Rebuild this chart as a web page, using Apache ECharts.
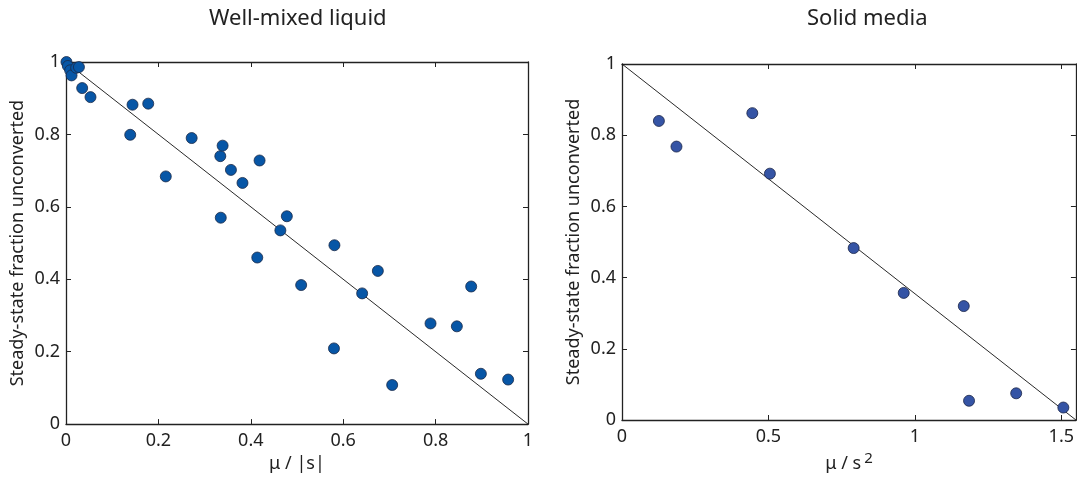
<!DOCTYPE html>
<html>
<head>
<meta charset="utf-8">
<script src="https://cdn.jsdelivr.net/npm/echarts@6/dist/echarts.min.js"></script>
<style>
html, body { margin: 0; padding: 0; background: #ffffff; }
#main { width: 1077px; height: 478px; }
</style>
</head>
<body>
<div id="main"></div>
<script>
// well-mixed liquid: mu/|s| vs fraction unconverted
var liquidX = [0.001, 0.004, 0.009, 0.012, 0.022, 0.028, 0.035, 0.053, 0.139, 0.144, 0.178, 0.216,
               0.272, 0.334, 0.339, 0.357, 0.335, 0.382, 0.419, 0.414, 0.464, 0.478, 0.509, 0.581,
               0.580, 0.641, 0.675, 0.706, 0.789, 0.846, 0.877, 0.898, 0.957];
var liquidY = [1.000, 0.989, 0.977, 0.963, 0.984, 0.986, 0.928, 0.903, 0.799, 0.882, 0.885, 0.684,
               0.790, 0.740, 0.769, 0.702, 0.570, 0.666, 0.728, 0.460, 0.535, 0.574, 0.384, 0.494,
               0.209, 0.361, 0.423, 0.108, 0.278, 0.270, 0.380, 0.139, 0.123];

// solid media: mu/s^2 vs fraction unconverted
var solidX = [0.126, 0.186, 0.445, 0.505, 0.791, 0.962, 1.167, 1.185, 1.346, 1.507];
var solidY = [0.840, 0.768, 0.862, 0.692, 0.483, 0.357, 0.320, 0.054, 0.075, 0.035];

// reference lines y = 1 - x/xmax
var liquidLineX = [0, 1];
var liquidLineY = [1, 0];
var solidLineX = [0, 1.55];
var solidLineY = [1, 0];

var FONT = 'Noto Sans';
var INK = '#222222';

function zip(xs, ys) {
	var out = [];
	for (var i = 0; i < xs.length; i++) {
		out.push([xs[i], ys[i]]);
	}
	return out;
}

function valueAxis(grid, pos, max, interval, labels, extra) {
	var ax = {
		type: 'value',
		gridIndex: grid,
		position: pos,
		min: 0,
		max: max,
		interval: interval,
		splitLine: { show: false },
		axisLine: { show: true, onZero: false, lineStyle: { color: INK, width: 1.3 } },
		axisTick: { show: true, inside: true, length: 5, lineStyle: { color: INK, width: 1 } },
		axisLabel: {
			show: labels,
			color: INK,
			fontFamily: FONT,
			fontSize: 18,
			margin: (pos === 'bottom') ? 8 : 6
		}
	};
	for (var k in extra) {
		ax[k] = extra[k];
	}
	return ax;
}

var yName = 'Steady-state fraction unconverted';
var nameStyle = { color: INK, fontFamily: FONT, fontSize: 18 };
var titleStyle = { color: INK, fontFamily: FONT, fontSize: 22, fontWeight: 'normal' };

var option = {
	animation: false,
	textStyle: { fontFamily: FONT },
	title: [{
		text: 'Well-mixed liquid',
		left: 204,
		top: 3,
		textStyle: titleStyle
	}, {
		text: 'Solid media',
		left: 802,
		top: 3,
		textStyle: titleStyle
	}],
	grid: [
		{ left: 66, right: 549, top: 62, bottom: 53 },
		{ left: 622, right: 1, top: 64, bottom: 58 }
	],
	xAxis: [
		valueAxis(0, 'bottom', 1, 0.2, true, {
			name: 'μ / |s|',
			nameLocation: 'middle',
			nameGap: 28,
			nameTextStyle: nameStyle
		}),
		valueAxis(0, 'top', 1, 0.2, false, {}),
		valueAxis(1, 'bottom', 1.55, 0.5, true, {
			name: 'μ / s{sup|2}',
			nameLocation: 'middle',
			nameGap: 30,
			nameTextStyle: {
				color: INK, fontFamily: FONT, fontSize: 18,
				rich: { sup: { fontSize: 15, verticalAlign: 'top', padding: [0, 0, 10, 3], color: INK, fontFamily: FONT } }
			},
			axisLabel: { show: true, color: INK, fontFamily: FONT, fontSize: 18, margin: 8, showMaxLabel: false }
		}),
		valueAxis(1, 'top', 1.55, 0.5, false, {})
	],
	yAxis: [
		valueAxis(0, 'left', 1, 0.2, true, {
			name: yName,
			nameLocation: 'middle',
			nameGap: 39,
			nameTextStyle: nameStyle
		}),
		valueAxis(0, 'right', 1, 0.2, false, {}),
		valueAxis(1, 'left', 1, 0.2, true, {
			name: yName,
			nameLocation: 'middle',
			nameGap: 39,
			nameTextStyle: nameStyle
		}),
		valueAxis(1, 'right', 1, 0.2, false, {})
	],
	series: [{
		type: 'line',
		xAxisIndex: 0,
		yAxisIndex: 0,
		data: zip(liquidLineX, liquidLineY),
		symbol: 'none',
		lineStyle: { color: '#111111', width: 0.9 },
		z: 1
	}, {
		type: 'scatter',
		xAxisIndex: 0,
		yAxisIndex: 0,
		data: zip(liquidX, liquidY),
		symbolSize: 11,
		clip: false,
		itemStyle: { color: '#0756a6', borderColor: '#1a2a48', borderWidth: 0.8, opacity: 1 },
		z: 3
	}, {
		type: 'line',
		xAxisIndex: 2,
		yAxisIndex: 2,
		data: zip(solidLineX, solidLineY),
		symbol: 'none',
		lineStyle: { color: '#111111', width: 0.9 },
		z: 1
	}, {
		type: 'scatter',
		xAxisIndex: 2,
		yAxisIndex: 2,
		data: zip(solidX, solidY),
		symbolSize: 11,
		clip: false,
		itemStyle: { color: '#3554a5', borderColor: '#1a2448', borderWidth: 0.8, opacity: 1 },
		z: 3
	}]
};

var myChart = echarts.init(document.getElementById('main'));
myChart.setOption(option);
</script>
</body>
</html>
